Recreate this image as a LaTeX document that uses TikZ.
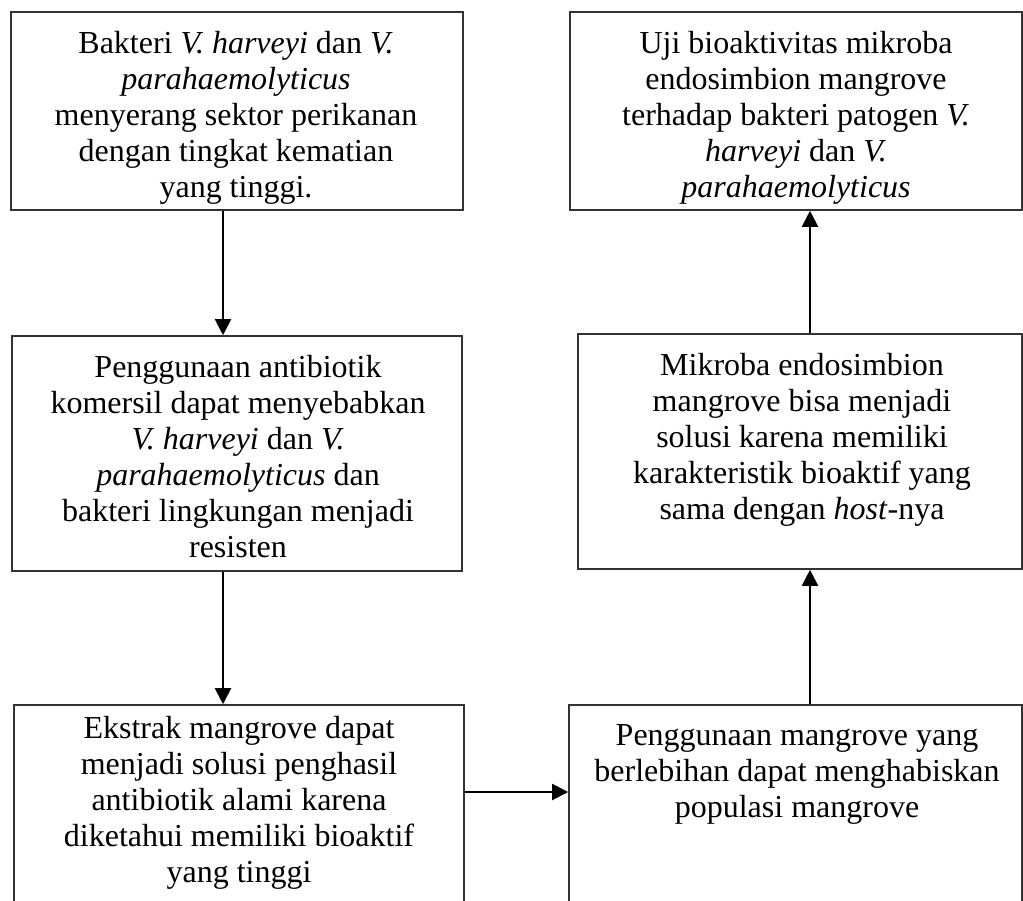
\documentclass[tikz,border=0pt]{standalone}
\usepackage{fontspec}
\setmainfont{Liberation Serif}
\usetikzlibrary{arrows.meta}
\tikzset{
  box/.style={draw=black!80, line width=1.6pt, rectangle, inner sep=0pt},
  txt/.style={anchor=base, align=center, inner sep=0pt, font=\fontsize{32}{36}\selectfont},
  arr/.style={draw=black, line width=2pt, -{Triangle[length=16pt,width=16pt]}}
}
\begin{document}
\begin{tikzpicture}[x=1pt,y=-1pt]
\clip (0,0) rectangle (1023,900);
\fill[white] (0,0) rectangle (1023,900);
% boxes
\node[box, minimum width=452pt, minimum height=198pt] (b1) at (237,111) {};
\node[box, minimum width=452pt, minimum height=198pt] (b2) at (796,111) {};
\node[box, minimum width=450pt, minimum height=235pt] (b3) at (237,453.5) {};
\node[box, minimum width=444pt, minimum height=235pt] (b4) at (800,451.5) {};
\node[box, minimum width=450pt, minimum height=230pt] (b5) at (239,820) {};
\node[box, minimum width=453pt, minimum height=230pt] (b6) at (795.5,820) {};
% texts (anchor = baseline of the last line)
\node[txt] (t1) at (236,197) {Bakteri \textit{V. harveyi} dan \textit{V.}\\\textit{parahaemolyticus}\\menyerang sektor perikanan\\dengan tingkat kematian\\yang tinggi.};
\node[txt] (t2) at (796,197) {Uji bioaktivitas mikroba\\endosimbion mangrove\\terhadap bakteri patogen \textit{V.}\\\textit{harveyi} dan \textit{V.}\\\textit{parahaemolyticus}};
\node[txt] (t3) at (238,557) {Penggunaan antibiotik\\komersil dapat menyebabkan\\\textit{V. harveyi} dan \textit{V.}\\\textit{parahaemolyticus} dan\\bakteri lingkungan menjadi\\resisten};
\node[txt] (t4) at (802,519) {Mikroba endosimbion\\mangrove bisa menjadi\\solusi karena memiliki\\karakteristik bioaktif yang\\sama dengan \textit{host}-nya};
\node[txt] (t5) at (239,882) {Ekstrak mangrove dapat\\menjadi solusi penghasil\\antibiotik alami karena\\diketahui memiliki bioaktif\\yang tinggi};
\node[txt] (t6) at (797,817) {Penggunaan mangrove yang\\berlebihan dapat menghabiskan\\populasi mangrove};
% connector guides
\coordinate (xl) at (223,0);
\coordinate (xr) at (810,0);
\coordinate (yh) at (0,792);
% connectors
\draw[arr] (b1.south -| xl) -- (b3.north -| xl);
\draw[arr] (b3.south -| xl) -- (b5.north -| xl);
\draw[arr] (b5.east |- yh) -- (b6.west |- yh);
\draw[arr] (b6.north -| xr) -- (b4.south -| xr);
\draw[arr] (b4.north -| xr) -- (b2.south -| xr);
\end{tikzpicture}
\end{document}
